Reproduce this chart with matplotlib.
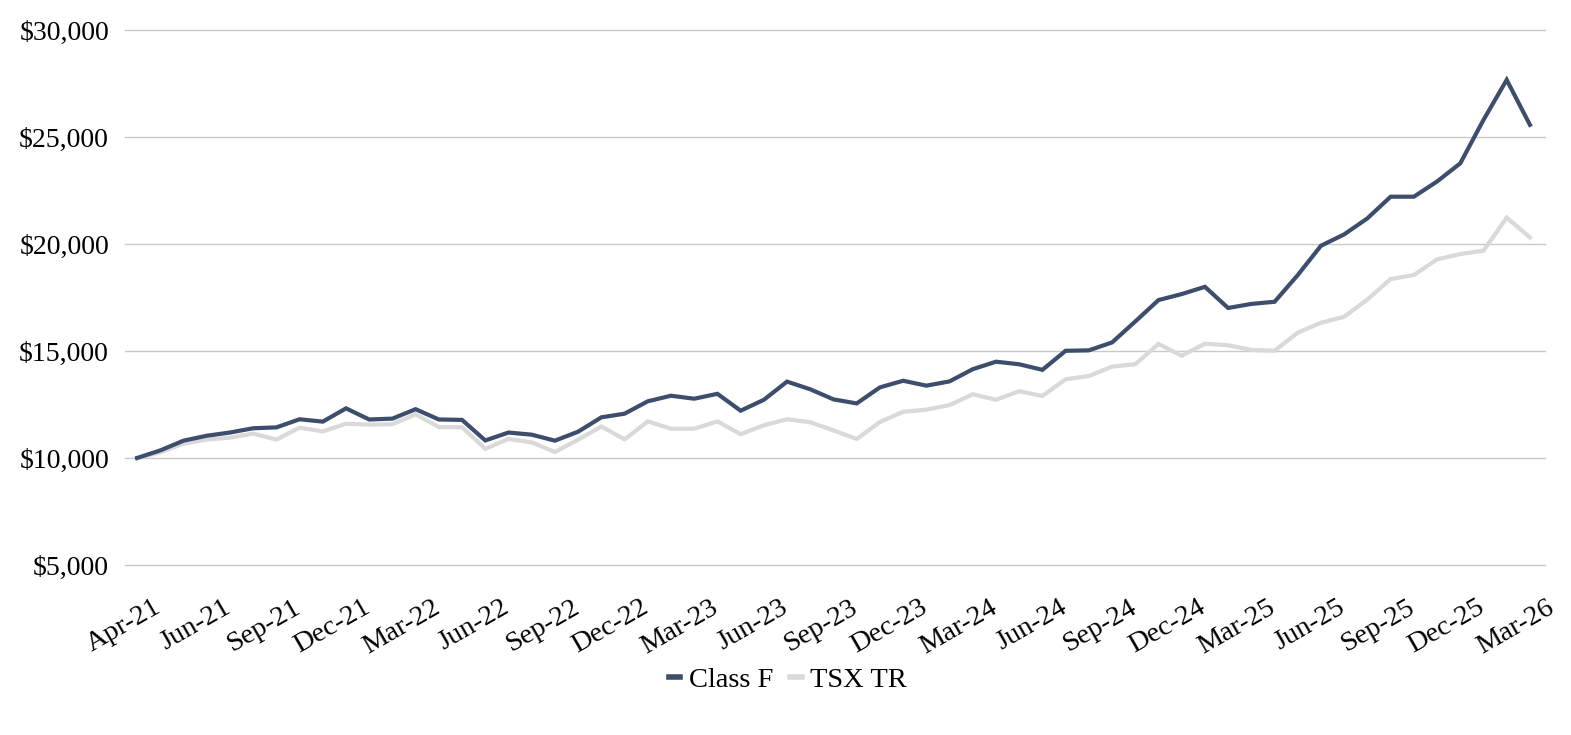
import matplotlib
matplotlib.use("Agg")
import matplotlib.pyplot as plt
import matplotlib.transforms as mtransforms
from matplotlib.ticker import FuncFormatter

# ---- data (monthly, index 0 = start) ----
class_f = [10000, 10355, 10810, 11040, 11190, 11390, 11430, 11810, 11700, 12320,
           11800, 11840, 12280, 11800, 11780, 10820, 11190, 11090, 10810, 11230,
           11900, 12070, 12650, 12910, 12770, 13000, 12210, 12720, 13570, 13210,
           12740, 12550, 13300, 13610, 13380, 13580, 14150, 14500, 14380, 14120,
           15010, 15030, 15400, 16380, 17380, 17660, 18000, 17010, 17200, 17300,
           18550, 19920, 20450, 21200, 22210, 22210, 22920, 23770, 25800, 27670,
           25570]
tsx_tr = [10000, 10260, 10670, 10860, 10950, 11140, 10860, 11420, 11240, 11600,
          11560, 11580, 12040, 11440, 11440, 10430, 10890, 10730, 10280, 10860,
          11470, 10870, 11710, 11370, 11370, 11710, 11110, 11530, 11810, 11670,
          11290, 10890, 11680, 12160, 12260, 12470, 12980, 12720, 13120, 12900,
          13680, 13830, 14270, 14380, 15330, 14780, 15340, 15270, 15050, 15010,
          15860, 16320, 16600, 17410, 18360, 18550, 19280, 19530, 19690, 21230,
          20310]
tick_labels = ["Apr-21", "Jun-21", "Sep-21", "Dec-21", "Mar-22", "Jun-22", "Sep-22",
               "Dec-22", "Mar-23", "Jun-23", "Sep-23", "Dec-23", "Mar-24", "Jun-24",
               "Sep-24", "Dec-24", "Mar-25", "Jun-25", "Sep-25", "Dec-25", "Mar-26"]
series_names = ["Class F", "TSX TR"]
y_ticks = [5000, 10000, 15000, 20000, 25000, 30000]

plt.rcParams['font.family'] = ['Liberation Serif', 'DejaVu Serif']

W, H = 1571, 735
fig = plt.figure(figsize=(W / 100, H / 100), dpi=100)
ax = fig.add_axes([125 / W, 1 - 565 / H, (1545 - 125) / W, (565 - 30) / H])

x = list(range(len(class_f)))
ax.plot(x, class_f, color="#3c4e6c", lw=3.0, label=series_names[0], zorder=3,
        solid_joinstyle="miter")
ax.plot(x, tsx_tr, color="#d9d9d9", lw=3.0, label=series_names[1], zorder=2,
        solid_joinstyle="miter")

ax.set_ylim(5000, 30000)
ax.set_xlim(-0.52, 60.65)
ax.set_yticks(y_ticks)
ax.yaxis.set_major_formatter(FuncFormatter(lambda v, p: "${:,.0f}".format(v)))
ax.grid(axis="y", color="#c9c9c9", lw=1.0, zorder=0)
for gl in ax.get_ygridlines():
    gl.set_clip_on(False)
ax.set_axisbelow(True)
for s in ax.spines.values():
    s.set_visible(False)
ax.tick_params(axis="both", length=0, colors="#000000")
ax.tick_params(axis="y", pad=11.5, labelsize=20)

# x tick labels drawn as rotated text anchored at each category position
tick_pos = list(range(0, len(class_f), 3))
ax.set_xticks(tick_pos)
ax.set_xticklabels([])
offset = mtransforms.ScaledTranslation(16 / 100, -30 / 100, fig.dpi_scale_trans)
for p, lab in zip(tick_pos, tick_labels):
    ax.text(p, 0, lab, transform=ax.get_xaxis_transform() + offset,
            rotation=30, ha="right", va="top", rotation_mode="anchor",
            fontsize=20.5, color="#000000", clip_on=False)

leg = fig.legend(loc="center", bbox_to_anchor=(788 / W, 1 - 680 / H), ncol=2,
                 frameon=False, fontsize=20.5, handlelength=0.4, handletextpad=0.3,
                 columnspacing=0.6)
for h in leg.get_lines():
    h.set_linewidth(4)

fig.savefig("out.png", dpi=100)
